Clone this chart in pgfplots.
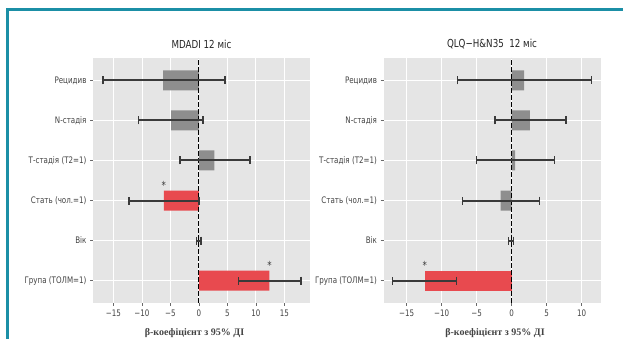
\documentclass[border=0pt]{standalone}
\usepackage{pgfplots}
\pgfplotsset{compat=1.18}
\usepackage{fontspec}
\setmainfont{DejaVu Sans Condensed}[FakeStretch=0.88]
\newfontfamily\serifb{Liberation Serif}
\definecolor{panelbg}{HTML}{E5E5E5}
\definecolor{bargray}{HTML}{8E8E8E}
\definecolor{barred}{HTML}{E84A4F}
\definecolor{errc}{HTML}{3A3A3A}
\definecolor{framec}{HTML}{1B8FA6}
\definecolor{ticktxt}{HTML}{444444}

\pgfplotstableread{
y  x      em     ep
5  -6.27  10.6   10.84
4  -4.9   5.7    5.6
3  2.7    6.0    6.3
2  -6.15  6.1    6.15
1  0.0    0.4    0.35
0  12.36  5.39   5.54
}\leftci

\pgfplotstableread{
y  x      em     ep
5  1.8    9.5    9.6
4  2.6    5.0    5.16
3  0.5    5.5    5.6
2  -1.57  5.48   5.52
1  0.05   0.48   0.19
0  -12.43 4.57   4.57
}\rightci

\pgfplotsset{
 forest/.style={
  anchor=south west, scale only axis, width=217pt, height=245pt,
  axis background/.style={fill=panelbg},
  axis line style={draw=none},
  grid=major, grid style={white, line width=0.9pt},
  ymin=-0.56, ymax=5.56, ytick={0,1,2,3,4,5},
  yticklabels={{Група (ТОЛМ=1)},{Вік},{Стать (чол.=1)},{Т-стадія (Т2=1)},{N-стадія},{Рецидив}},
  xtick pos=bottom, ytick pos=left,
  tick style={ticktxt!80, line width=0.6pt}, major tick length=3pt, tick align=outside,
  ticklabel style={font=\fontsize{9}{10}\selectfont, text=ticktxt},
  title style={font=\fontsize{11}{13}\selectfont, text=black!85},
  xlabel style={font=\serifb\bfseries\fontsize{10}{11}\selectfont, text=ticktxt,
     at={(axis description cs:0.5,0)}, anchor=base, yshift=-32.5pt},
  ci/.style={only marks, mark=*, mark size=0pt, errc, line width=2pt, forget plot,
    error bars/.cd, x dir=both, x explicit,
    error bar style={draw=errc, line width=2pt},
    error mark options={draw=errc, line width=1.4pt, mark size=4pt, rotate=90}},
 }
}

\begin{document}
\begin{tikzpicture}
\useasboundingbox (0,0) rectangle (623pt,339pt);
\fill[white] (0,0) rectangle (623pt,339pt);
\draw[framec, line width=3pt] (7.5pt,0) -- (7.5pt,329.5pt) -- (623pt,329.5pt);

\begin{axis}[forest, at={(93pt,36pt)},
  xmin=-18.6, xmax=19.5, xtick={-15,-10,...,15},
  xticklabels={−15,−10,−5,0,5,10,15},
  title={MDADI 12 міс},
  xlabel={β-коефіцієнт з 95\% ДІ}, xlabel style={xshift=-7pt}]
\addplot[xbar, bar width=0.5, bar shift=0pt, fill=bargray, draw=none] coordinates {(-6.27,5) (-4.9,4) (2.7,3) (0.05,1)};
\addplot[xbar, bar width=0.5, bar shift=0pt, fill=barred, draw=none] coordinates {(-6.15,2) (12.36,0)};
\addplot[black, dash pattern=on 4.5pt off 2.5pt, line width=1.1pt, forget plot] coordinates {(0,-0.56) (0,5.56)};
\addplot[ci] table[x=x, y=y, x error minus=em, x error plus=ep] {\leftci};
\node[text=errc, font=\fontsize{11}{12}\selectfont] at (axis cs:-6.15,2.38) {*};
\node[text=errc, font=\fontsize{11}{12}\selectfont] at (axis cs:12.4,0.38) {*};
\end{axis}

\begin{axis}[forest, at={(383.5pt,36pt)},
  xmin=-18.3, xmax=12.7, xtick={-15,-10,...,10},
  xticklabels={−15,−10,−5,0,5,10},
  title={QLQ−H\&N35\ \ 12 міс},
  xlabel={β-коефіцієнт з 95\% ДІ}, xlabel style={xshift=3pt}]
\addplot[xbar, bar width=0.5, bar shift=0pt, fill=bargray, draw=none] coordinates {(1.8,5) (2.6,4) (0.5,3) (-1.57,2) (0.05,1)};
\addplot[xbar, bar width=0.5, bar shift=0pt, fill=barred, draw=none] coordinates {(-12.43,0)};
\addplot[black, dash pattern=on 4.5pt off 2.5pt, line width=1.1pt, forget plot] coordinates {(0,-0.56) (0,5.56)};
\addplot[ci] table[x=x, y=y, x error minus=em, x error plus=ep] {\rightci};
\node[text=errc, font=\fontsize{11}{12}\selectfont] at (axis cs:-12.4,0.38) {*};
\end{axis}
\end{tikzpicture}
\end{document}
